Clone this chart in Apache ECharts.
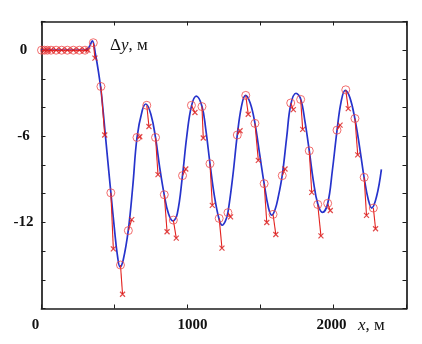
<!DOCTYPE html>
<html>
<head>
<meta charset="utf-8">
<script src="https://cdn.jsdelivr.net/npm/echarts@6/dist/echarts.min.js"></script>
<style>
  html, body { margin: 0; padding: 0; background: #fff; }
  #chart { width: 422px; height: 344px; }
</style>
</head>
<body>
<div id="chart"></div>
<script>
// Smooth model curve Δy(x), metres
const curveX = [0, 300, 325, 348, 370, 390, 410, 440, 470, 500, 520, 538, 560, 595, 625, 654, 690, 715, 750, 781, 810, 841, 870, 900, 930, 966, 995, 1027, 1060, 1099, 1125, 1154, 1185, 1217, 1238, 1260, 1277, 1310, 1341, 1370, 1397, 1430, 1462, 1495, 1525, 1555, 1577, 1600, 1620, 1649, 1680, 1707, 1743, 1775, 1805, 1834, 1862, 1892, 1925, 1960, 1992, 2024, 2052, 2080, 2112, 2147, 2178, 2210, 2238, 2262, 2295, 2328];
const curveY = [0, 0, 0.2, 0.65, -0.3, -1.5, -3.0, -6.2, -9.4, -12.5, -14.3, -15.1, -14.6, -12.5, -9.5, -6.1, -4.2, -3.75, -4.5, -6.1, -8.2, -10.1, -11.4, -11.9, -11.4, -8.7, -6.0, -3.9, -3.2, -3.9, -5.5, -7.9, -10.2, -11.8, -12.2, -11.9, -11.3, -8.8, -5.9, -3.9, -3.15, -3.7, -5.1, -7.3, -9.3, -11.0, -11.5, -11.1, -10.3, -8.7, -6.0, -3.8, -3.0, -3.4, -5.0, -7.0, -9.1, -10.7, -11.3, -10.7, -8.4, -5.6, -3.6, -2.8, -3.3, -4.8, -6.7, -8.9, -10.4, -11.0, -10.2, -8.3];

// Measured points (circles) and their paired points (crosses)
const circleX = [0, 20, 40, 65, 100, 138, 177, 218, 259, 298, 355, 407, 475, 541, 595, 654, 721, 781, 841, 903, 966, 1027, 1099, 1154, 1217, 1277, 1341, 1399, 1462, 1525, 1586, 1649, 1707, 1775, 1834, 1892, 1960, 2024, 2084, 2147, 2210, 2273];
const circleY = [0, 0, 0, 0, 0, 0, 0, 0, 0, 0, 0.52, -2.53, -9.94, -14.97, -12.57, -6.08, -3.84, -6.08, -10.07, -11.84, -8.74, -3.84, -3.93, -7.91, -11.72, -11.32, -5.91, -3.15, -5.10, -9.30, -11.44, -8.74, -3.68, -3.43, -7.01, -10.75, -10.67, -5.57, -2.76, -4.76, -8.86, -11.0];
const crossX = [20, 40, 65, 100, 138, 177, 218, 259, 298, 318, 366, 433, 492, 555, 618, 673, 736, 798, 860, 923, 988, 1051, 1108, 1170, 1236, 1295, 1360, 1416, 1485, 1543, 1605, 1668, 1725, 1789, 1851, 1914, 1978, 2045, 2101, 2166, 2226, 2288];
const crossY = [0, 0, 0, 0, 0, 0, 0, 0, 0, 0, -0.55, -5.91, -13.84, -17.01, -11.81, -6.03, -5.32, -8.67, -12.65, -13.10, -8.28, -4.34, -6.12, -10.81, -13.79, -11.61, -5.61, -4.46, -7.68, -12.01, -12.84, -8.28, -4.14, -5.52, -9.91, -12.94, -11.17, -5.22, -4.07, -7.29, -11.51, -12.44];

// Axis ticks and labels
const xTickLabels = ['0', '1000', '2000'];
const yTickLabels = ['0', '-6', '-12'];

const FONT = '"Liberation Serif", "Times New Roman", serif';
const AXIS_COLOR = '#1c1c1c';

const chart = echarts.init(document.getElementById('chart'), null, { renderer: 'canvas' });

const frameLine = { show: true, onZero: false, lineStyle: { color: AXIS_COLOR, width: 1.7 } };
const innerTick = { show: true, inside: true, length: 4, lineStyle: { color: AXIS_COLOR, width: 1 } };

const xLabelRich = {
  z0: { fontFamily: FONT, fontWeight: 'bold', fontSize: 15, color: '#111', padding: [0, 12, 0, 0] },
  z1: { fontFamily: FONT, fontWeight: 'bold', fontSize: 15, color: '#111', padding: [0, 0, 0, 10] },
  z2: { fontFamily: FONT, fontWeight: 'bold', fontSize: 15, color: '#111', padding: [0, 4, 0, 0] }
};

chart.setOption({
  animation: false,
  backgroundColor: '#ffffff',
  grid: { left: 41.5, right: 15.5, top: 21.5, bottom: 35.5, containLabel: false },
  xAxis: [
    {
      type: 'value', min: 0, max: 2500, interval: 500, position: 'bottom',
      axisLine: frameLine, axisTick: innerTick, splitLine: { show: false },
      axisLabel: {
        margin: 9,
        formatter: function (v) {
          const s = String(v);
          const i = xTickLabels.indexOf(s);
          return i < 0 ? '' : '{z' + i + '|' + s + '}';
        },
        rich: xLabelRich
      }
    },
    {
      type: 'value', min: 0, max: 2500, interval: 500, position: 'top',
      axisLine: frameLine, axisTick: innerTick, splitLine: { show: false },
      axisLabel: { show: false }
    }
  ],
  yAxis: [
    {
      type: 'value', min: -18, max: 2, interval: 2, position: 'left',
      axisLine: frameLine, axisTick: innerTick, splitLine: { show: false },
      axisLabel: {
        margin: 18, align: 'center',
        fontFamily: FONT, fontWeight: 'bold', fontSize: 15, color: '#111',
        formatter: function (v) {
          const s = String(v);
          return yTickLabels.indexOf(s) < 0 ? '' : s;
        }
      }
    },
    {
      type: 'value', min: -18, max: 2, interval: 2, position: 'right',
      axisLine: frameLine, axisTick: innerTick, splitLine: { show: false },
      axisLabel: { show: false }
    }
  ],
  graphic: [
    {
      type: 'text', x: 110, y: 46, silent: true,
      style: {
        text: '{a|Δ}{b|y}{a|, м}',
        verticalAlign: 'middle', align: 'left',
        rich: {
          a: { fontFamily: FONT, fontSize: 17, fill: '#111' },
          b: { fontFamily: FONT, fontSize: 17, fontStyle: 'italic', fill: '#111' }
        }
      }
    },
    {
      type: 'text', x: 358, y: 326, silent: true,
      style: {
        text: '{b|x}{a|, м}',
        verticalAlign: 'middle', align: 'left',
        rich: {
          a: { fontFamily: FONT, fontSize: 17, fill: '#111' },
          b: { fontFamily: FONT, fontSize: 17, fontStyle: 'italic', fill: '#111' }
        }
      }
    }
  ],
  series: [
    {
      name: 'curve', type: 'line', xAxisIndex: 0, yAxisIndex: 0,
      data: curveX.map((x, i) => [x, curveY[i]]),
      smooth: 0.4, showSymbol: false, symbol: 'none',
      lineStyle: { color: '#2633cc', width: 1.7 },
      z: 2
    },
    {
      name: 'pairs', type: 'lines', coordinateSystem: 'cartesian2d', xAxisIndex: 0, yAxisIndex: 0,
      data: circleX.map((x, i) => ({ coords: [[x, circleY[i]], [crossX[i], crossY[i]]] })),
      lineStyle: { color: '#e3221f', width: 1.1, opacity: 1, curveness: 0 },
      z: 3
    },
    {
      name: 'circles', type: 'scatter', xAxisIndex: 0, yAxisIndex: 0,
      data: circleX.map((x, i) => [x, circleY[i]]),
      symbol: 'circle', symbolSize: 8,
      itemStyle: { color: 'rgba(0,0,0,0)', borderColor: '#ef4a4a', borderWidth: 1 },
      z: 4
    },
    {
      name: 'crosses', type: 'scatter', xAxisIndex: 0, yAxisIndex: 0,
      data: crossX.map((x, i) => [x, crossY[i]]),
      symbol: 'path://M0,0L10,10M10,0L0,10', symbolSize: 5,
      itemStyle: { color: 'rgba(0,0,0,0)', borderColor: '#d91c1c', borderWidth: 1.2 },
      z: 4
    }
  ]
});
</script>
</body>
</html>
